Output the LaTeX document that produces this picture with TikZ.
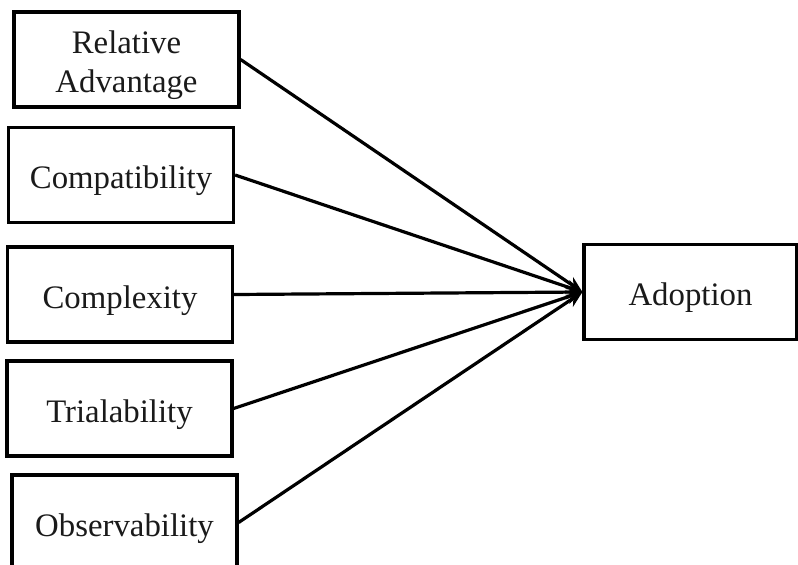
\documentclass[tikz,border=0pt]{standalone}
\usepackage{fontspec}
\setmainfont{Liberation Serif}
\usepackage{tikz}
\usetikzlibrary{arrows.meta,positioning}
\definecolor{dink}{HTML}{1A1A1A}
\tikzset{
  box/.style={draw=black,fill=white,line width=1.6pt,align=center,text=dink,font=\fontsize{16.4}{19.5}\selectfont,minimum width=112.5pt,minimum height=47.5pt,inner sep=2pt,text height=13.6pt,text depth=0pt},
  arr/.style={-{Stealth[length=8pt,width=7pt]},line width=1.6pt,draw=black},
}
\begin{document}
\begin{tikzpicture}[x=0.5pt,y=-0.5pt]
  \useasboundingbox (0,0) rectangle (798,564);
  \node[box,text height=33.1pt] (rel) at (126.5,59.5) {Relative\\Advantage};
  \node[box] (comp) at (121,175) {Compatibility};
  \node[box] (cplx) at (120,294.5) {Complexity};
  \node[box] (trial) at (119.5,408.5) {Trialability};
  \node[box] (obs) at (124.5,522.5) {Observability};
  \node[box,minimum width=106.5pt] (adopt) at (690.5,292) {Adoption};
  \foreach \n in {rel,comp,cplx,trial,obs}
    \draw[arr] (\n.east) -- (adopt.west);
\end{tikzpicture}
\end{document}
